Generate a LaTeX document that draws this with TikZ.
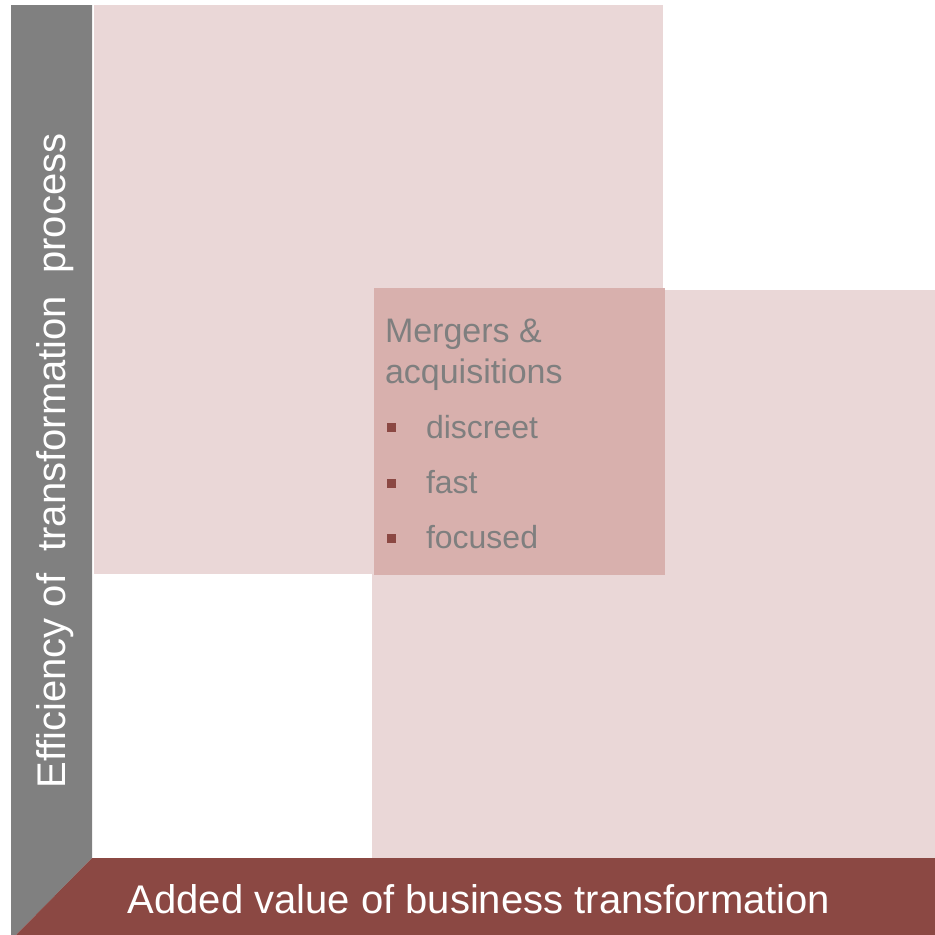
\documentclass[tikz,border=0pt]{standalone}
\usepackage{fontspec}
\setmainfont{Liberation Sans}
\definecolor{lightpink}{HTML}{EAD7D7}
\definecolor{midpink}{HTML}{D8B0AD}
\definecolor{axisgray}{HTML}{808080}
\definecolor{axisred}{HTML}{8B4843}
\definecolor{txtgray}{HTML}{7F7F7F}
\tikzset{
  field/.style={fill=lightpink, draw=none},
  core/.style={fill=midpink, draw=none},
  axistxt/.style={font=\fontsize{40}{48}\selectfont, text=white, inner sep=0pt, outer sep=0pt},
  headtxt/.style={font=\fontsize{34}{40}\selectfont, text=txtgray, inner sep=0pt, outer sep=0pt, anchor=base west},
  itemtxt/.style={font=\fontsize{32}{38}\selectfont, text=txtgray, inner sep=0pt, outer sep=0pt, anchor=base west},
  bulletsq/.style={fill=axisred, draw=none, minimum size=9pt, inner sep=0pt, outer sep=0pt}
}
\begin{document}
\begin{tikzpicture}[x=1pt,y=-1pt]
\useasboundingbox (0,0) rectangle (935,935);
% quadrants
\fill[field] (94,5) rectangle (663,574);
\fill[field] (372,290) rectangle (935,858);
\fill[core] (374,288) rectangle (665,575);
% axes
\fill[axisgray] (11,5) -- (92,5) -- (92,858) -- (16,935) -- (11,935) -- cycle;
\fill[axisred] (92,858) -- (935,858) -- (935,935) -- (16,935) -- cycle;
\node[axistxt, rotate=90, anchor=base] (yaxis) at (65,461) {Efficiency of\ \ transformation\ \ process};
\node[axistxt, anchor=base] (xaxis) at (479,913) {Added value of business transformation};
% text
\node[headtxt] (t1) at (385,342) {Mergers \&};
\node[headtxt] (t2) at (385,383) {acquisitions};
\node[bulletsq] (b1) at (391.5,427) {};
\node[itemtxt] (i1) at (426,438) {discreet};
\node[bulletsq] (b2) at (391.5,483) {};
\node[itemtxt] (i2) at (426,493) {fast};
\node[bulletsq] (b3) at (391.5,538) {};
\node[itemtxt] (i3) at (426,548) {focused};
\end{tikzpicture}
\end{document}
